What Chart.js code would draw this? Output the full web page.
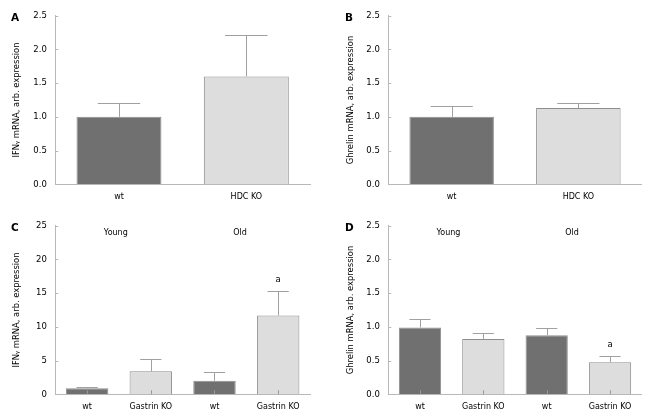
<!DOCTYPE html>
<html>
<head>
<meta charset="utf-8">
<script src="https://cdn.jsdelivr.net/npm/chart.js@4.4.1/dist/chart.umd.min.js"></script>
<style>
  body { margin: 0; background: #fff; width: 653px; height: 420px; position: relative; overflow: hidden; font-family: 'DejaVu Sans', Verdana, sans-serif; }
  .panel { position: absolute; }
  .tag { position: absolute; font-weight: bold; font-size: 10.5px; line-height: 11px; color: #000; }
</style>
</head>
<body>
<div class="panel" style="left:0;top:0;width:326px;height:210px"><canvas id="chartA"></canvas></div>
<div class="panel" style="left:325px;top:0;width:328px;height:210px"><canvas id="chartB"></canvas></div>
<div class="panel" style="left:0;top:210px;width:326px;height:210px"><canvas id="chartC"></canvas></div>
<div class="panel" style="left:325px;top:210px;width:328px;height:210px"><canvas id="chartD"></canvas></div>
<div class="tag" style="left:11px;top:12px">A</div>
<div class="tag" style="left:345px;top:12px">B</div>
<div class="tag" style="left:11px;top:222px">C</div>
<div class="tag" style="left:345px;top:222px">D</div>
<script>
// data
const hdcLabels = ['wt', 'HDC KO'];
const ifnHdc = [1.0, 1.6];
const ifnHdcErr = [0.2, 0.61];
const ghrelinHdc = [1.0, 1.13];
const ghrelinHdcErr = [0.16, 0.075];

const gastrinLabels = ['wt', 'Gastrin KO', 'wt', 'Gastrin KO'];
const ifnGastrin = [0.9, 3.4, 2.0, 11.7];
const ifnGastrinErr = [0.15, 1.9, 1.35, 3.6];
const ghrelinGastrin = [0.99, 0.82, 0.875, 0.475];
const ghrelinGastrinErr = [0.12, 0.085, 0.115, 0.09];

const ageGroups = ['Young', 'Old'];
const gastrinMarks = ['', '', '', 'a'];

const ifnTitle = 'IFN\u1D67 mRNA, arb. expression';
const ghrelinTitle = 'Ghrelin mRNA, arb. expression';

const DARK = '#707070';
const LIGHT = '#dcdddc';
const EDGE = '#8e8e8e';
const AXIS = '#b8b8b8';
const WHISKER = '#a0a0a0';

Chart.defaults.font.family = "'DejaVu Sans', Verdana, sans-serif";
Chart.defaults.color = '#000';

// error bars, significance marks, inward ticks and group labels
const extras = {
    id: 'extras',
    afterDatasetsDraw(chart, args, opts) {
        const ctx = chart.ctx;
        const x = chart.scales.x;
        const y = chart.scales.y;
        const area = chart.chartArea;
        const ds = chart.data.datasets[0];
        const meta = chart.getDatasetMeta(0);
        ctx.save();
        ctx.lineWidth = 1;

        // inward ticks on the value axis
        ctx.strokeStyle = AXIS;
        y.ticks.forEach((t, i) => {
            const py = Math.round(y.getPixelForTick(i)) + 0.5;
            ctx.beginPath();
            ctx.moveTo(area.left, py);
            ctx.lineTo(area.left + 3, py);
            ctx.stroke();
        });

        // inward category ticks (panels C and D)
        if (opts.innerX) {
            ctx.strokeStyle = '#999';
            x.ticks.forEach((t, i) => {
                const px = Math.round(x.getPixelForTick(i)) + 0.5;
                ctx.beginPath();
                ctx.moveTo(px, area.bottom);
                ctx.lineTo(px, area.bottom - 4);
                ctx.stroke();
            });
        }

        // upper error bars
        ctx.strokeStyle = WHISKER;
        meta.data.forEach((bar, i) => {
            const top = y.getPixelForValue(ds.data[i] + opts.errors[i]);
            const cx = Math.round(bar.x) + 0.5;
            const half = bar.width / 4;
            ctx.beginPath();
            ctx.moveTo(cx, bar.y);
            ctx.lineTo(cx, Math.round(top) + 0.5);
            ctx.moveTo(bar.x - half, Math.round(top) + 0.5);
            ctx.lineTo(bar.x + half, Math.round(top) + 0.5);
            ctx.stroke();
            const mark = opts.marks ? opts.marks[i] : '';
            if (mark) {
                ctx.fillStyle = '#000';
                ctx.font = "8.5px 'DejaVu Sans', Verdana, sans-serif";
                ctx.textAlign = 'center';
                ctx.textBaseline = 'middle';
                ctx.fillText(mark, bar.x, top - 11);
            }
        });

        // Young / Old captions
        if (opts.groups) {
            ctx.fillStyle = '#000';
            ctx.font = "8px 'DejaVu Sans', Verdana, sans-serif";
            ctx.textAlign = 'center';
            ctx.textBaseline = 'middle';
            opts.groups.forEach((g, i) => {
                ctx.fillText(g, x.getPixelForValue(opts.groupAt[i]), y.getPixelForValue(y.max * 0.96));
            });
        }
        ctx.restore();
    }
};

function makePanel(id, labels, values, errors, cfg) {
    const colors = labels.map((l, i) => i % 2 === 0 ? DARK : LIGHT);
    return new Chart(document.getElementById(id), {
        type: 'bar',
        data: {
            labels: labels,
            datasets: [{
                data: values,
                backgroundColor: colors,
                borderColor: EDGE,
                borderWidth: 1,
                borderSkipped: 'bottom',
                categoryPercentage: 1,
                barPercentage: 0.667
            }]
        },
        options: {
            responsive: true,
            maintainAspectRatio: false,
            animation: false,
            events: [],
            layout: { padding: { top: 15.7, right: cfg.padRight, left: 0, bottom: 0 } },
            plugins: {
                legend: { display: false },
                tooltip: { enabled: false },
                extras: {
                    errors: errors,
                    marks: cfg.marks,
                    innerX: cfg.innerX,
                    groups: cfg.groups,
                    groupAt: [0.45, 2.4]
                }
            },
            scales: {
                x: {
                    grid: { display: false, drawTicks: false },
                    border: { color: AXIS },
                    ticks: { padding: 8, font: { size: 8 }, color: '#000' },
                    afterFit: s => { s.height = 25.7; }
                },
                y: {
                    min: 0,
                    max: cfg.max,
                    grid: { display: false, drawTicks: false },
                    border: { color: AXIS },
                    ticks: {
                        stepSize: cfg.step,
                        padding: 8.5,
                        font: { size: 8.5 },
                        color: '#000',
                        callback: v => v.toFixed(cfg.decimals)
                    },
                    title: {
                        display: true,
                        text: cfg.title,
                        font: { size: 8.4 },
                        color: '#000',
                        padding: { top: cfg.titlePad, bottom: 0 }
                    },
                    afterFit: s => { s.width = cfg.axisWidth; }
                }
            }
        },
        plugins: [extras]
    });
}

makePanel('chartA', hdcLabels, ifnHdc, ifnHdcErr,
    { max: 2.5, step: 0.5, decimals: 1, title: ifnTitle, axisWidth: 55.3, titlePad: 11.7, padRight: 16 });
makePanel('chartB', hdcLabels, ghrelinHdc, ghrelinHdcErr,
    { max: 2.5, step: 0.5, decimals: 1, title: ghrelinTitle, axisWidth: 63.3, titlePad: 21, padRight: 11.3 });
makePanel('chartC', gastrinLabels, ifnGastrin, ifnGastrinErr,
    { max: 25, step: 5, decimals: 0, title: ifnTitle, axisWidth: 55.3, titlePad: 11.7, padRight: 16,
      innerX: true, groups: ageGroups, marks: gastrinMarks });
makePanel('chartD', gastrinLabels, ghrelinGastrin, ghrelinGastrinErr,
    { max: 2.5, step: 0.5, decimals: 1, title: ghrelinTitle, axisWidth: 63.3, titlePad: 21, padRight: 11.3,
      innerX: true, groups: ageGroups, marks: gastrinMarks });
</script>
</body>
</html>
